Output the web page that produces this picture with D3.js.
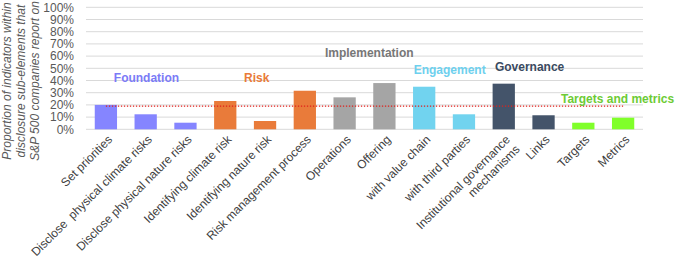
<!DOCTYPE html>
<html>
<head>
<meta charset="utf-8">
<script src="https://cdn.jsdelivr.net/npm/d3@7"></script>
<style>
  html, body { margin: 0; padding: 0; background: #fff; }
  svg { display: block; font-family: Arial, "Liberation Sans", sans-serif; }
</style>
</head>
<body>
<svg id="chart" width="675" height="262"></svg>
<script>
// ---- data ----
const categories = [
  "Set priorities",
  "Disclose  physical climate risks",
  "Disclose physical nature risks",
  "Identifying climate risk",
  "Identifying nature risk",
  "Risk management process",
  "Operations",
  "Offering",
  "with value chain",
  "with third parties",
  "Institutional governance\nmechanisms",
  "Links",
  "Targets",
  "Metrics"
];
const values = [20, 12.3, 5.4, 23.2, 6.8, 31.6, 26.2, 37.9, 34.9, 12.3, 37.4, 11.5, 5.4, 9.5];
const groupOfCategory = ["Foundation","Foundation","Foundation","Risk","Risk","Risk",
  "Implementation","Implementation","Engagement","Engagement","Governance","Governance",
  "Targets and metrics","Targets and metrics"];
const groups = ["Foundation","Risk","Implementation","Engagement","Governance","Targets and metrics"];
const referenceValue = 19;
const yTicks = [0,10,20,30,40,50,60,70,80,90,100];
const yTitleLines = ["Proportion of indicators within", "disclosure sub-elements that", "S&P 500 companies report on"];

// ---- styles ----
const barColor = {
  "Foundation": "#8585FF",
  "Risk": "#E97B3A",
  "Implementation": "#A5A5A5",
  "Engagement": "#71D3EF",
  "Governance": "#44546A",
  "Targets and metrics": "#80FF2A"
};
const textColor = {
  "Foundation": "#7B7BF7",
  "Risk": "#E97B3A",
  "Implementation": "#777777",
  "Engagement": "#6DD0EE",
  "Governance": "#3A4A60",
  "Targets and metrics": "#6DCB35"
};
// label placement: x in category-index units, y in % units
const groupLabelPos = {
  "Foundation": [1.02, 42.6],
  "Risk": [3.79, 42.6],
  "Implementation": [6.62, 62.3],
  "Engagement": [8.64, 48.7],
  "Governance": [10.65, 51.5],
  "Targets and metrics": [12.86, 25.4]
};

const svg = d3.select("#chart");
const m = {left: 86, right: 32, top: 7.3, bottom: 132.7};
const W = 675, H = 262;

const x = d3.scaleBand().domain(categories).range([m.left, W - m.right]).paddingInner(0.44).paddingOuter(0.22);
const y = d3.scaleLinear().domain([0, 100]).range([H - m.bottom, m.top]);

// gridlines
svg.append("g").selectAll("line").data(yTicks).join("line")
  .attr("x1", m.left).attr("x2", W - m.right)
  .attr("y1", d => y(d)).attr("y2", d => y(d))
  .attr("stroke", "#D9D9D9").attr("stroke-width", 1);

// y tick labels via axis
const yAxis = svg.append("g").attr("transform", `translate(${m.left - 12},0)`)
  .call(d3.axisLeft(y).tickValues(yTicks).tickFormat(d => d + "%").tickSize(0).tickPadding(0));
yAxis.select(".domain").remove();
yAxis.selectAll("text").attr("fill", "#595959").style("font-size", "12px")
  .style("font-family", "Arial, 'Liberation Sans', sans-serif");

// y title
const yt = svg.append("text")
  .attr("transform", `translate(11,81) rotate(-90)`)
  .attr("text-anchor", "middle")
  .attr("fill", "#595959")
  .style("font-size", "12px").style("font-style", "italic");
yTitleLines.forEach((t, i) => {
  yt.append("tspan").attr("x", 0).attr("dy", i === 0 ? 0 : 14).text(t);
});

// bars
svg.append("g").selectAll("rect").data(categories).join("rect")
  .attr("x", d => x(d))
  .attr("width", x.bandwidth())
  .attr("y", (d, i) => y(values[i]))
  .attr("height", (d, i) => y(0) - y(values[i]))
  .attr("fill", (d, i) => barColor[groupOfCategory[i]]);

// reference dotted line
const xc = d => x(d) + x.bandwidth() / 2;
svg.append("line")
  .attr("x1", xc(categories[0])).attr("x2", xc(categories[categories.length - 1]))
  .attr("y1", y(referenceValue)).attr("y2", y(referenceValue))
  .attr("stroke", "#E0201B").attr("stroke-width", 1.3)
  .attr("stroke-dasharray", "1.3,1.7");

// group labels
const step = x.step();
const c0 = xc(categories[0]);
svg.append("g").selectAll("text").data(groups).join("text")
  .attr("x", g => c0 + groupLabelPos[g][0] * step)
  .attr("y", g => y(groupLabelPos[g][1]))
  .attr("dy", "0.35em")
  .attr("text-anchor", "middle")
  .attr("fill", g => textColor[g])
  .style("font-size", "12px").style("font-weight", "bold")
  .text(g => g);

// category labels
const xl = svg.append("g");
categories.forEach(c => {
  const t = xl.append("text")
    .attr("transform", `translate(${xc(c) + 1},${H - m.bottom + 5}) rotate(-45)`)
    .attr("text-anchor", "end")
    .attr("fill", "#404040")
    .style("font-size", "12px")
    .style("white-space", "pre");
  c.split("\n").forEach((line, i) => {
    t.append("tspan").attr("x", 0).attr("dy", i === 0 ? "0.71em" : "1.15em").text(line);
  });
});
</script>
</body>
</html>
